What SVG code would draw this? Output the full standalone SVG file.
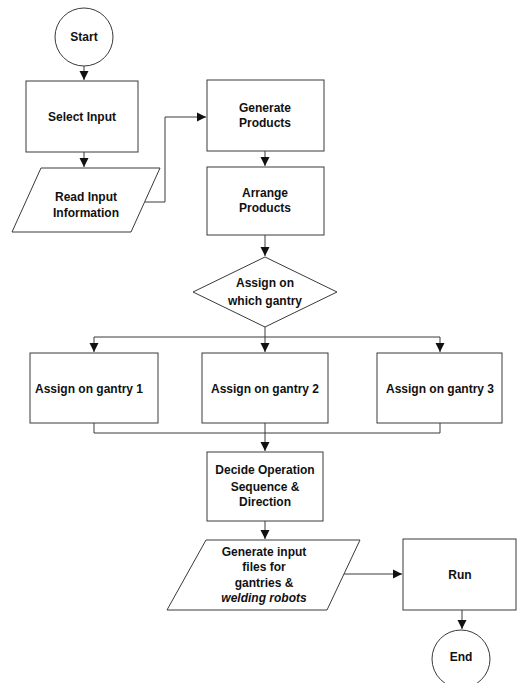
<svg xmlns="http://www.w3.org/2000/svg" width="518" height="683" viewBox="0 0 518 683">
<style>
.n{fill:#fff;stroke:#3a3a3a;stroke-width:1}
.t{font-family:"Liberation Sans",Arial,sans-serif;font-weight:bold;font-size:12px;fill:#111;text-anchor:middle}
.c{fill:none;stroke:#3a3a3a;stroke-width:1}
</style>
<defs>
<marker id="a" markerWidth="10" markerHeight="10" refX="9" refY="5" orient="auto" markerUnits="userSpaceOnUse">
<path d="M0,0.5 L9,5 L0,9.5 Z" fill="#111"/>
</marker>
</defs>
<rect width="518" height="683" fill="#fff"/>
<g id="connectors">
<path class="c" d="M84,66 V80" marker-end="url(#a)"/>
<path class="c" d="M84,152 V167" marker-end="url(#a)"/>
<path class="c" d="M145,202 H165 V117 H206" marker-end="url(#a)"/>
<path class="c" d="M265,151 V166" marker-end="url(#a)"/>
<path class="c" d="M265,235 V256" marker-end="url(#a)"/>
<path class="c" d="M265,327 V337"/>
<path class="c" d="M94,337 H440"/>
<path class="c" d="M94,337 V352" marker-end="url(#a)"/>
<path class="c" d="M265,337 V352" marker-end="url(#a)"/>
<path class="c" d="M440,337 V352" marker-end="url(#a)"/>
<path class="c" d="M94,423 V433 H440 V423"/>
<path class="c" d="M265,423 V451" marker-end="url(#a)"/>
<path class="c" d="M265,521 V539" marker-end="url(#a)"/>
<path class="c" d="M343,574 H402" marker-end="url(#a)"/>
<path class="c" d="M462,610 V629" marker-end="url(#a)"/>
</g>
<g id="start">
<circle class="n" cx="84" cy="37" r="29"/>
<text class="t" x="84" y="41" font-size="13">Start</text>
</g>
<g id="select-input">
<rect class="n" x="26" y="81" width="112" height="71"/>
<text class="t" x="82" y="121" font-size="13">Select Input</text>
</g>
<g id="read-input">
<polygon class="n" points="41,168 160,168 131,232 12,232"/>
<text class="t" x="86" y="201">Read Input</text>
<text class="t" x="86" y="217">Information</text>
</g>
<g id="generate-products">
<rect class="n" x="207" y="80" width="117" height="71"/>
<text class="t" x="265" y="112">Generate</text>
<text class="t" x="265" y="127">Products</text>
</g>
<g id="arrange-products">
<rect class="n" x="207" y="167" width="117" height="68"/>
<text class="t" x="265" y="197">Arrange</text>
<text class="t" x="265" y="212">Products</text>
</g>
<g id="assign-which">
<polygon class="n" points="265,257 337,292 265,327 193,292"/>
<text class="t" x="265" y="287">Assign on</text>
<text class="t" x="265" y="305">which gantry</text>
</g>
<g id="gantry1">
<rect class="n" x="30" y="353" width="128" height="70"/>
<text class="t" x="89" y="393">Assign on gantry 1</text>
</g>
<g id="gantry2">
<rect class="n" x="202" y="353" width="126" height="70"/>
<text class="t" x="265" y="393">Assign on gantry 2</text>
</g>
<g id="gantry3">
<rect class="n" x="377" y="353" width="125" height="70"/>
<text class="t" x="440" y="393">Assign on gantry 3</text>
</g>
<g id="decide">
<rect class="n" x="207" y="452" width="116" height="69"/>
<text class="t" x="265" y="474">Decide Operation</text>
<text class="t" x="265" y="491">Sequence &amp;</text>
<text class="t" x="265" y="506">Direction</text>
</g>
<g id="generate-input">
<polygon class="n" points="206,540 360,540 327,610 167,610"/>
<text class="t" x="264" y="556">Generate input</text>
<text class="t" x="264" y="571">files for</text>
<text class="t" x="264" y="587">gantries &amp;</text>
<text class="t" x="264" y="602" font-style="italic">welding robots</text>
</g>
<g id="run">
<rect class="n" x="403" y="539" width="113" height="71"/>
<text class="t" x="460" y="579">Run</text>
</g>
<g id="end">
<circle class="n" cx="461" cy="659" r="29"/>
<text class="t" x="461" y="661">End</text>
</g>
</svg>
